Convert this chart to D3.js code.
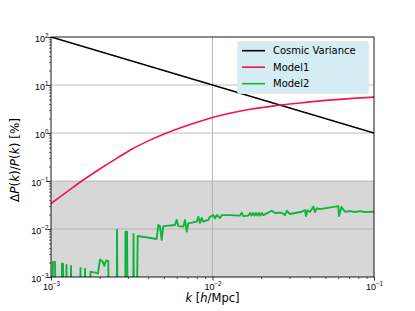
<!DOCTYPE html>
<html><head><meta charset="utf-8">
<script src="https://cdn.jsdelivr.net/npm/d3@7"></script>
<style>body{margin:0;background:#fff} svg{display:block;font-family:"DejaVu Sans",sans-serif}</style>
</head><body><svg id="c" width="415" height="311"></svg>
<script>
// ---- data ----
const cvK = [1e-3, 1e-2, 1e-1];
const cvValues = [100, 10, 1];

const model1K = [1e-3, 1.259e-3, 1.585e-3, 1.995e-3, 2.553e-3, 3.199e-3, 4.102e-3, 5.2e-3, 6.607e-3, 8.204e-3, 1.012e-2, 1.3e-2, 1.706e-2, 2.399e-2, 3.483e-2, 5.495e-2, 1e-1];
const model1Values = [0.034, 0.060, 0.105, 0.176, 0.297, 0.47, 0.71, 1.0, 1.35, 1.72, 2.12, 2.6, 3.12, 3.67, 4.22, 4.9, 5.6];

const model2K = [1.000e-3, 1.029e-3, 1.059e-3, 1.074e-3, 1.153e-3, 1.170e-3, 1.187e-3, 1.204e-3, 1.238e-3, 1.247e-3, 1.265e-3, 1.321e-3, 1.330e-3, 1.349e-3, 1.512e-3, 1.523e-3, 1.545e-3, 1.612e-3, 1.624e-3, 1.647e-3, 1.744e-3, 1.756e-3, 1.927e-3, 1.954e-3, 2.011e-3, 2.090e-3, 2.138e-3, 2.191e-3, 2.264e-3, 2.286e-3, 2.544e-3, 2.562e-3, 2.599e-3, 2.873e-3, 2.893e-3, 2.935e-3, 2.956e-3, 2.998e-3, 3.220e-3, 3.243e-3, 3.289e-3, 3.360e-3, 3.443e-3, 4.512e-3, 4.616e-3, 4.730e-3, 4.846e-3, 4.957e-3, 5.859e-3, 6.002e-3, 6.141e-3, 6.596e-3, 6.758e-3, 6.924e-3, 7.083e-3, 7.983e-3, 8.167e-3, 8.368e-3, 8.573e-3, 8.771e-3, 9.419e-3, 9.650e-3, 1.0115e-2, 1.0363e-2, 1.0617e-2, 1.1128e-2, 1.1401e-2, 1.2835e-2, 1.4802e-2, 1.5165e-2, 1.5515e-2, 1.6590e-2, 1.7070e-2, 1.7439e-2, 1.7816e-2, 1.8201e-2, 1.8595e-2, 1.8997e-2, 1.9408e-2, 1.9827e-2, 2.0256e-2, 2.0694e-2, 2.3255e-2, 2.4378e-2, 2.6821e-2, 2.8113e-2, 2.8802e-2, 3.0190e-2, 3.5666e-2, 3.7384e-2, 3.7921e-2, 3.8741e-2, 4.0146e-2, 4.2082e-2, 4.3116e-2, 4.4174e-2, 4.6300e-2, 6.0098e-2, 6.0700e-2, 6.2903e-2, 6.6123e-2, 7.1012e-2, 7.6247e-2, 8.1873e-2, 8.7908e-2, 1e-1];
const model2Values = [1e-5, 0.00205, 0.00205, 1e-5, 1e-5, 0.0019, 0.0019, 1e-5, 1e-5, 0.00178, 1e-5, 1e-5, 0.0017, 1e-5, 1e-5, 0.00154, 1e-5, 1e-5, 0.00147, 1e-5, 1e-5, 0.00128, 0.00122, 0.00118, 0.0023, 0.0021, 0.0017, 0.0022, 0.00215, 1e-5, 1e-5, 0.0096, 1e-5, 1e-5, 0.0088, 1e-5, 0.0088, 1e-5, 1e-5, 0.0079, 1e-5, 1e-5, 0.00715, 0.0062, 0.0121, 0.0115, 0.0059, 0.0115, 0.0121, 0.0155, 0.0115, 0.0113, 0.0155, 0.0088, 0.0131, 0.0142, 0.018, 0.0133, 0.017, 0.0142, 0.0155, 0.018, 0.0195, 0.0167, 0.0195, 0.017, 0.0195, 0.0195, 0.019, 0.0219, 0.0185, 0.019, 0.0215, 0.019, 0.0215, 0.019, 0.0215, 0.019, 0.0215, 0.019, 0.0215, 0.0195, 0.024, 0.0216, 0.0219, 0.0195, 0.024, 0.0205, 0.0229, 0.0249, 0.0186, 0.0245, 0.0226, 0.0292, 0.0226, 0.027, 0.026, 0.030, 0.0186, 0.0287, 0.0229, 0.0236, 0.0226, 0.0236, 0.0226, 0.0229];

const xTicks = [1e-3, 1e-2, 1e-1];
const xTickExp = ["\u22123", "\u22122", "\u22121"];
const yTicks = [1e-3, 1e-2, 1e-1, 1e0, 1e1, 1e2];
const yTickExp = ["\u22123", "\u22122", "\u22121", "0", "1", "2"];
const shadeRange = [1e-3, 1e-1];
const legendLabels = ["Cosmic Variance", "Model1", "Model2"];
const seriesColors = ["#000000", "#f5134f", "#0fb43c"];

// ---- layout ----
const svg = d3.select("#c");
const L = 51, R = 374, T = 37, B = 277;
const x = d3.scaleLog().domain([1e-3, 1e-1]).range([L, R]);
const y = d3.scaleLog().domain([1e-3, 1e2]).range([B, T]);

svg.append("defs").append("clipPath").attr("id", "clip")
  .append("rect").attr("x", L).attr("y", T).attr("width", R - L).attr("height", B - T);

// shaded region
svg.append("rect").attr("x", L).attr("width", R - L)
  .attr("y", y(shadeRange[1])).attr("height", y(shadeRange[0]) - y(shadeRange[1]))
  .attr("fill", "#d7d7d7");

// grid
svg.append("g").selectAll("line").data(yTicks.slice(1, -1)).join("line")
  .attr("x1", L).attr("x2", R).attr("y1", d => y(d)).attr("y2", d => y(d))
  .attr("stroke", "#b0b0b0").attr("stroke-opacity", 0.55).attr("stroke-width", 1.3);
svg.append("g").selectAll("line").data(xTicks.slice(1, -1)).join("line")
  .attr("y1", T).attr("y2", B).attr("x1", d => x(d)).attr("x2", d => x(d))
  .attr("stroke", "#b0b0b0").attr("stroke-width", 0.9);

// lines
const line = d3.line().x(d => x(d[0])).y(d => y(d[1]));
const gLines = svg.append("g").attr("clip-path", "url(#clip)");
gLines.append("path").datum(d3.zip(cvK, cvValues)).attr("d", line)
  .attr("fill", "none").attr("stroke", seriesColors[0]).attr("stroke-width", 1.6);
gLines.append("path").datum(d3.zip(model1K, model1Values))
  .attr("d", d3.line().x(d => x(d[0])).y(d => y(d[1])).curve(d3.curveMonotoneX))
  .attr("fill", "none").attr("stroke", seriesColors[1]).attr("stroke-width", 1.6);
gLines.append("path").datum(d3.zip(model2K, model2Values)).attr("d", line)
  .attr("fill", "none").attr("stroke", seriesColors[2]).attr("stroke-width", 1.9)
  .attr("stroke-linejoin", "round");

// minor ticks
function minors(lo, hi) {
  const out = [];
  for (let e = lo; e < hi; e++) for (let m = 2; m <= 9; m++) out.push(m * Math.pow(10, e));
  return out;
}
const xMinor = minors(-3, -1), yMinor = minors(-3, 2);
svg.append("g").attr("transform", `translate(0,${B})`)
  .call(d3.axisBottom(x).tickValues(xMinor).tickSize(2).tickFormat(""))
  .call(g => g.select(".domain").remove())
  .selectAll("line").attr("stroke-width", 0.6);
svg.append("g").attr("transform", `translate(${L},0)`)
  .call(d3.axisLeft(y).tickValues(yMinor).tickSize(2).tickFormat(""))
  .call(g => g.select(".domain").remove())
  .selectAll("line").attr("stroke-width", 0.6);

// major ticks
const gx = svg.append("g").attr("transform", `translate(0,${B})`)
  .call(d3.axisBottom(x).tickValues(xTicks).tickSize(3.5).tickPadding(3).tickFormat(""));
gx.select(".domain").remove();
gx.selectAll("line").attr("stroke-width", 0.8);
gx.selectAll(".tick").each(function (d, i) {
  const t = d3.select(this).append("text").attr("fill", "#000").attr("font-size", 9)
    .attr("text-anchor", "middle").attr("y", 12.5);
  t.append("tspan").text("10");
  t.append("tspan").attr("font-size", 6.3).attr("dy", -3.8).text(xTickExp[i]);
});
const gy = svg.append("g").attr("transform", `translate(${L},0)`)
  .call(d3.axisLeft(y).tickValues(yTicks).tickSize(3.5).tickFormat(""));
gy.select(".domain").remove();
gy.selectAll("line").attr("stroke-width", 0.8);
gy.selectAll(".tick").each(function (d, i) {
  const t = d3.select(this).append("text").attr("fill", "#000").attr("font-size", 9)
    .attr("text-anchor", "end").attr("x", -2.5).attr("y", 4.5);
  t.append("tspan").text("10");
  t.append("tspan").attr("font-size", 6.3).attr("dy", -3.8).text(yTickExp[i]);
});

// frame
svg.append("rect").attr("x", L).attr("y", T).attr("width", R - L).attr("height", B - T)
  .attr("fill", "none").attr("stroke", "#000").attr("stroke-width", 0.9);

// axis titles
const xt = svg.append("text").attr("x", (L + R) / 2).attr("y", 302).attr("text-anchor", "middle")
  .attr("font-size", 11.5);
xt.append("tspan").attr("font-style", "italic").text("k");
xt.append("tspan").text(" [");
xt.append("tspan").attr("font-style", "italic").text("h");
xt.append("tspan").text("/Mpc]");

const yt = svg.append("text").attr("transform", `translate(19,${(T + B) / 2 + 3}) rotate(-90)`)
  .attr("text-anchor", "middle").attr("font-size", 12);
yt.append("tspan").text("\u0394");
yt.append("tspan").attr("font-style", "italic").text("P");
yt.append("tspan").text("(");
yt.append("tspan").attr("font-style", "italic").text("k");
yt.append("tspan").text(")/");
yt.append("tspan").attr("font-style", "italic").text("P");
yt.append("tspan").text("(");
yt.append("tspan").attr("font-style", "italic").text("k");
yt.append("tspan").text(") [%]");

// legend
const lg = svg.append("g");
lg.append("rect").attr("x", 237.5).attr("y", 41.5).attr("width", 131).attr("height", 52)
  .attr("rx", 2).attr("fill", "#d6ecf3").attr("stroke", "#e6e6e6").attr("stroke-width", 0.8);
legendLabels.forEach((lab, i) => {
  const yy = 50.7 + i * 16.5;
  lg.append("line").attr("x1", 242).attr("x2", 265).attr("y1", yy).attr("y2", yy)
    .attr("stroke", seriesColors[i]).attr("stroke-width", 1.6);
  lg.append("text").attr("x", 273).attr("y", yy + 3.6).attr("font-size", 10).text(lab);
});
</script></body></html>
